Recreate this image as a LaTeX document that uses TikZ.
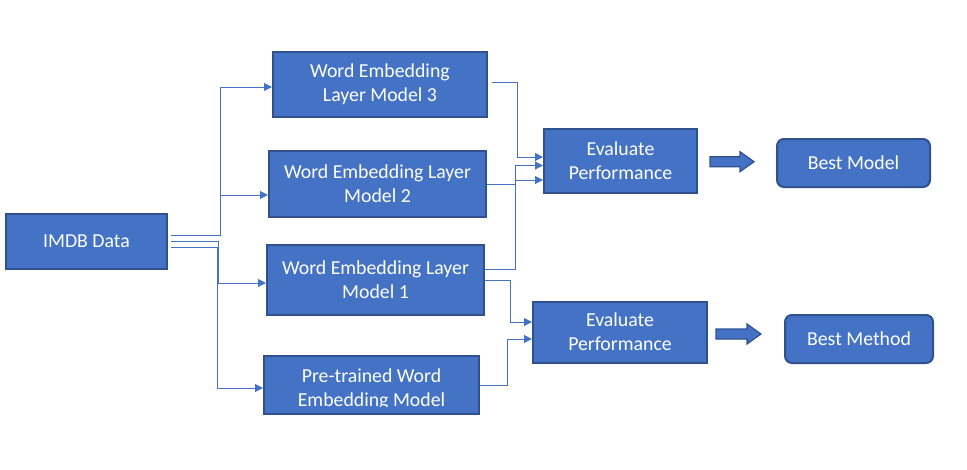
\documentclass[tikz,border=0pt]{standalone}
\usepackage{fontspec}
\setmainfont{Carlito}
\usetikzlibrary{arrows.meta,calc}
\definecolor{boxfill}{HTML}{4472C4}
\definecolor{boxedge}{HTML}{2F528F}
\definecolor{lineblue}{HTML}{4472C4}
\begin{document}
\begin{tikzpicture}[x=1pt,y=-1pt,
  txt/.style={text=white,align=center,font=\fontsize{19.8}{24}\selectfont,inner sep=0pt},
  box/.style={txt,draw=boxedge,line width=2pt,fill=boxfill},
  rbox/.style={box,rounded corners=7pt},
  conn/.style={draw=lineblue,line width=1pt,-{Triangle[length=8pt,width=8pt]}},
  barrow/.style={draw=boxedge,line width=1.2pt,fill=boxfill}]
\path[fill=white] (0,0) rectangle (967,469);
\useasboundingbox (0,0) rectangle (967,469);

\node[box,minimum width=161pt,minimum height=55pt] (imdb) at (86.5,241.5) {IMDB Data};
\node[box,minimum width=214pt,minimum height=65pt] (m3) at (380,84.5) {Word Embedding\\Layer Model 3};
\node[box,minimum width=217pt,minimum height=66pt] (m2) at (377.5,183.5) {Word Embedding Layer\\Model 2};
\node[box,minimum width=217pt,minimum height=70pt] (m1) at (375.5,280) {Word Embedding Layer\\Model 1};
\node[box,minimum width=215pt,minimum height=58pt] (pre) at (371.5,385) {};
\begin{scope}
  \clip (260,350) rectangle (485,406);
  \node[txt] (pretext) at (371.5,389) {Pre-trained Word\\Embedding Model};
\end{scope}
\node[box,minimum width=153pt,minimum height=64pt] (ev1) at (620.5,160.5) {Evaluate\\Performance};
\node[box,minimum width=174pt,minimum height=61pt] (ev2) at (620,332) {Evaluate\\Performance};
\node[rbox,minimum width=153pt,minimum height=48pt] (bmodel) at (853.5,163) {Best Model};
\node[rbox,minimum width=148pt,minimum height=48pt] (bmethod) at (859,339) {Best Method};

% from IMDB
\draw[conn] ($(imdb.east)+(3,-6)$) -| (220,87) -- (m3.west |- 0,87);
\draw[conn] (220,195) -- (m2.west |- 0,195);
\draw[conn] ($(imdb.east)+(3,0)$) -| (218,283) -- (m1.west |- 0,283);
\draw[conn] ($(imdb.east)+(3,6)$) -| (217,388) -- (pre.west |- 0,388);

% to evaluate 1
\draw[conn] ($(m3.east |- 0,82)+(4,0)$) -| (517,157) -- (ev1.west |- 0,157);
\draw[conn] (m2.east |- 0,184) -| (515,165.5) -- (ev1.west |- 0,165.5);
\draw[conn] (m1.east |- 0,269) -| (515,180) -- (ev1.west |- 0,180);

% to evaluate 2
\draw[conn] (m1.east |- 0,280) -| (510,322) -- (ev2.west |- 0,322);
\draw[conn] (pre.east |- 0,385) -| (507,339) -- (ev2.west |- 0,339);

% block arrows
\draw[barrow] (710,156.7) -- (740,156.7) -- (740,151.7) -- (754,161.7) -- (740,171.7) -- (740,166.7) -- (710,166.7) -- cycle;
\draw[barrow] (716,329) -- (747,329) -- (747,324) -- (761,334) -- (747,344) -- (747,339) -- (716,339) -- cycle;
\end{tikzpicture}
\end{document}
